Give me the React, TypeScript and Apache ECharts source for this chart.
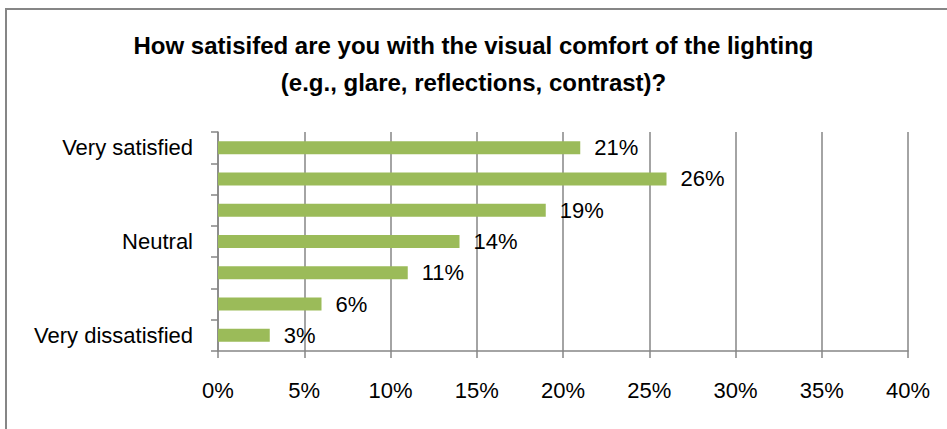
import React, { useEffect, useRef } from "react";
import * as echarts from "echarts";

const titleLines = [
  "How satisifed are you with the visual comfort of the lighting",
  "(e.g., glare, reflections, contrast)?",
];
const categories = [
  "Very satisfied",
  "",
  "",
  "Neutral",
  "",
  "",
  "Very dissatisfied",
];
const values = [21, 26, 19, 14, 11, 6, 3];
const axisMin = 0;
const axisMax = 40;
const axisStep = 5;

const FONT = "'Liberation Sans', Arial, sans-serif";
const GRAY = "#868686";

export default function App() {
  const ref = useRef<HTMLDivElement>(null);
  useEffect(() => {
    if (!ref.current) return;
    const chart = echarts.init(ref.current, undefined, { renderer: "svg" });
    chart.setOption({
      animation: false,
      backgroundColor: "#ffffff",
      textStyle: { fontFamily: FONT },
      title: {
        text: titleLines.join("\n"),
        left: "center",
        top: 22,
        textStyle: {
          fontFamily: FONT,
          fontWeight: "bold",
          fontSize: 24,
          lineHeight: 37,
          color: "#000",
        },
      },
      graphic: [
        {
          type: "rect",
          shape: { x: 6, y: 9, width: 980, height: 460 },
          style: { fill: "none", stroke: GRAY, lineWidth: 2 },
          silent: true,
        },
      ],
      grid: { left: 218, right: 39, top: 132, bottom: 78, containLabel: false },
      xAxis: {
        type: "value",
        min: axisMin,
        max: axisMax,
        interval: axisStep,
        axisLine: { show: true, lineStyle: { color: GRAY, width: 1.5 } },
        axisTick: { show: true, length: 7, lineStyle: { color: GRAY, width: 1.5 } },
        splitLine: { show: true, lineStyle: { color: GRAY, width: 1.5 } },
        axisLabel: {
          formatter: "{value}%",
          margin: 28,
          fontSize: 22,
          color: "#000",
          fontFamily: FONT,
        },
      },
      yAxis: {
        type: "category",
        inverse: true,
        data: categories,
        axisLine: { show: true, lineStyle: { color: GRAY, width: 1.5 } },
        axisTick: {
          show: true,
          length: 7,
          interval: 0,
          lineStyle: { color: GRAY, width: 1.5 },
        },
        axisLabel: {
          interval: 0,
          margin: 25,
          fontSize: 22,
          color: "#000",
          fontFamily: FONT,
        },
      },
      series: [
        {
          type: "bar",
          data: values,
          barWidth: 13,
          itemStyle: { color: "#9BBB59" },
          label: {
            show: true,
            position: "right",
            distance: 14,
            formatter: "{c}%",
            fontSize: 22,
            color: "#000",
            fontFamily: FONT,
          },
        },
      ],
    });
    return () => chart.dispose();
  }, []);
  return (
    <div
      ref={ref}
      style={{ position: "fixed", left: 0, top: 0, width: 947, height: 429 }}
    />
  );
}
